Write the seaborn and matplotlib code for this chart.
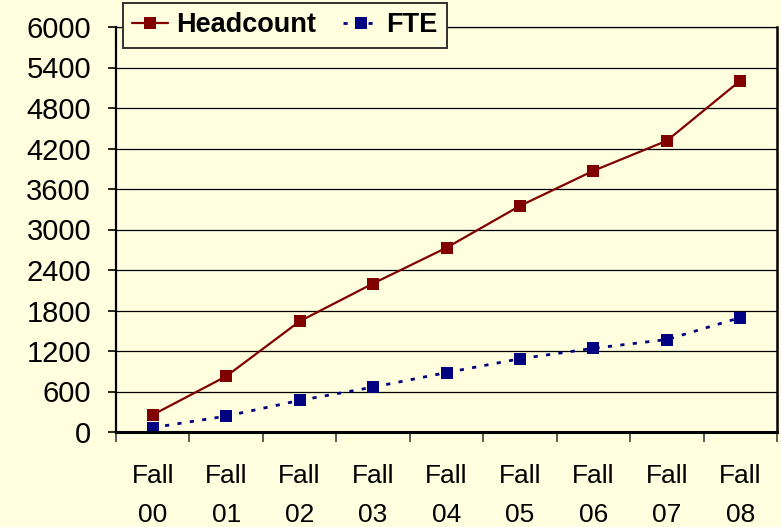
import pandas as pd
import seaborn as sb
from matplotlib import pyplot as plt
from matplotlib.lines import Line2D
from matplotlib.ticker import FixedLocator

terms = ['Fall\n00', 'Fall\n01', 'Fall\n02', 'Fall\n03', 'Fall\n04',
         'Fall\n05', 'Fall\n06', 'Fall\n07', 'Fall\n08']
headcount = [255, 825, 1640, 2200, 2730, 3350, 3870, 4315, 5205]
fte = [65, 235, 468, 665, 880, 1085, 1240, 1370, 1695]
yTicks = list(range(0, 6001, 600))

bg = '#FFFFE0'
red = '#800000'
navy = '#000080'

sb.set_style('white')
plt.rcParams['font.family'] = ['Liberation Sans', 'DejaVu Sans']
plt.rcParams['text.color'] = 'black'
plt.rcParams['xtick.labelcolor'] = 'black'
plt.rcParams['ytick.labelcolor'] = 'black'

dataset = pd.DataFrame({
    'Term': terms * 2,
    'Value': headcount + fte,
    'Series': ['Headcount'] * len(terms) + ['FTE'] * len(terms),
})

fig = plt.figure(figsize=(7.81, 5.27), dpi=100, facecolor=bg)
ax = fig.add_axes([116 / 781, 1 - 432 / 527, 661 / 781, 405 / 527])
ax.set_facecolor(bg)

sb.lineplot(data=dataset, x='Term', y='Value', hue='Series', style='Series',
            palette={'Headcount': red, 'FTE': navy},
            dashes={'Headcount': '', 'FTE': (1.5, 3)},
            markers={'Headcount': 's', 'FTE': 's'},
            markersize=8, markeredgewidth=0, linewidth=2, sort=False, ax=ax)

# per-series line widths
for line in ax.get_lines():
    if line.get_color() == red:
        line.set_linewidth(1.6)

ax.set_xlim(-0.5, len(terms) - 0.5)
ax.set_ylim(0, 6000)
ax.set_yticks(yTicks)
ax.set_xlabel('')
ax.set_ylabel('')
ax.grid(axis='y', color='black', linewidth=0.9)
ax.set_axisbelow(True)

# x ticks marks sit between categories, labels centered
ax.xaxis.set_minor_locator(FixedLocator([i - 0.5 for i in range(len(terms) + 1)]))
ax.tick_params(axis='x', which='major', length=0, pad=23, labelsize=19,
               labelcolor='black')
ax.tick_params(axis='x', which='minor', length=7, width=1.2, color='#404040',
               direction='out', bottom=True)
ax.tick_params(axis='y', length=6, width=1.2, color='black', direction='out',
               left=True, pad=12, labelsize=21, labelcolor='black')
for lab in ax.get_xticklabels():
    lab.set_linespacing(1.8)

for side in ['left', 'bottom', 'right', 'top']:
    ax.spines[side].set_color('black')
ax.spines['left'].set_linewidth(1.6)
ax.spines['bottom'].set_linewidth(2.2)
ax.spines['right'].set_linewidth(1.8)
ax.spines['top'].set_linewidth(0.9)

ax.get_legend().remove()
handles = [
    Line2D([], [], color=red, linewidth=1.6, marker='s', markersize=8, markeredgewidth=0),
    Line2D([], [], color=navy, linewidth=2, linestyle=(0, (1.5, 3)), marker='s',
           markersize=8, markeredgewidth=0),
]
leg = ax.legend(handles, ['Headcount', 'FTE'], ncol=2, loc='upper left',
                bbox_to_anchor=(123 / 781, 1 - 3 / 527), bbox_transform=fig.transFigure,
                borderaxespad=0, frameon=True, fancybox=False, framealpha=1,
                facecolor=bg, edgecolor='#303030', handlelength=1.3,
                handletextpad=0.3, columnspacing=1.0, borderpad=0.35,
                prop={'weight': 'bold', 'size': 19.5})
leg.get_frame().set_linewidth(1.4)
for txt in leg.get_texts():
    txt.set_color('black')

fig.savefig('out.png', dpi=100, facecolor=bg)
